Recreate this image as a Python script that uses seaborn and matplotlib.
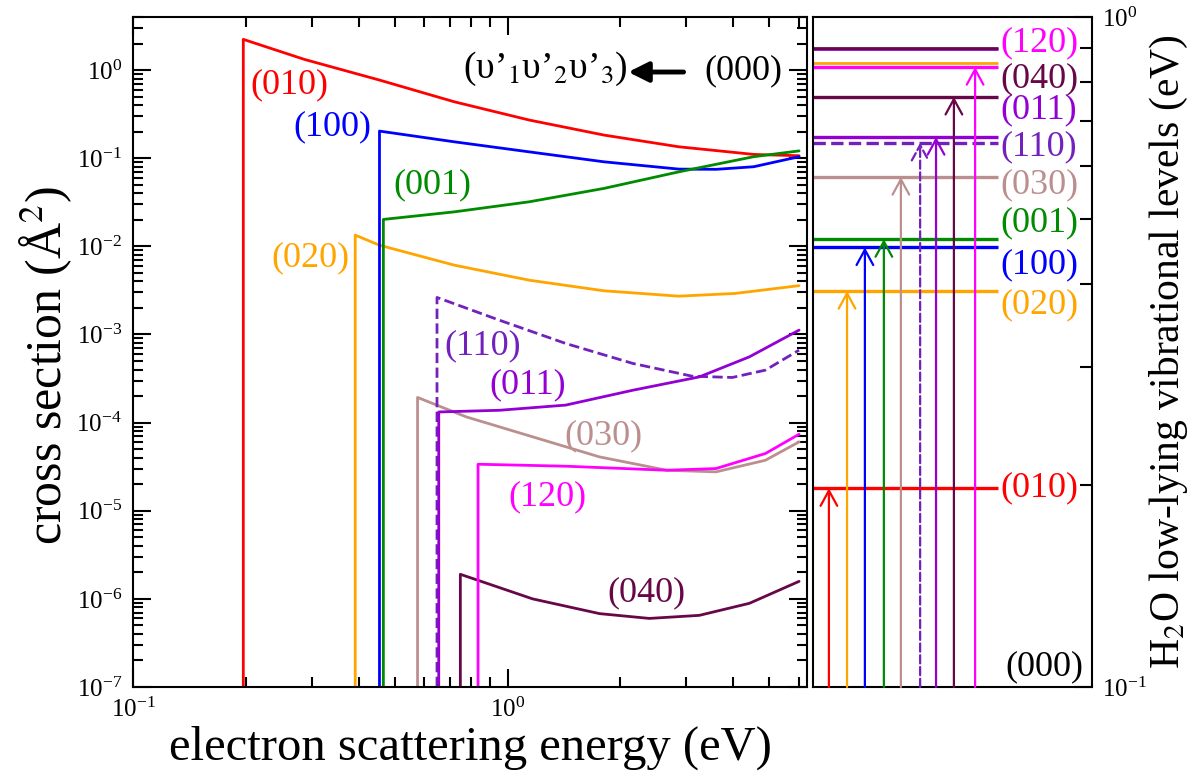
import numpy as np
import pandas as pd
import seaborn as sns
import matplotlib.pyplot as plt
from matplotlib.ticker import NullFormatter


# ======================================
# DATA
# ======================================

STATES = ["(010)", "(020)", "(100)", "(001)", "(030)",
          "(110)", "(011)", "(040)", "(120)"]

# cross section curves: first point is the threshold
e_010 = [0.197, 0.287, 0.455, 0.720, 1.142, 1.808, 2.865, 4.54, 6.0]
s_010 = [2.23, 1.32, 0.770, 0.437, 0.271, 0.183, 0.1347, 0.1104, 0.1066]

e_020 = [0.392, 0.455, 0.720, 1.142, 1.808, 2.865, 4.05, 5.84, 6.0]
s_020 = [0.0134, 0.0103, 0.00612, 0.00413, 0.00313, 0.00272, 0.00292,
         0.00353, 0.00358]

e_100 = [0.455, 0.720, 1.142, 1.808, 2.865, 3.61, 4.54, 6.0]
s_100 = [0.203, 0.1535, 0.118, 0.091, 0.0752, 0.0748, 0.080, 0.104]

e_001 = [0.466, 0.720, 1.142, 1.808, 2.865, 4.54, 6.0]
s_001 = [0.0202, 0.0246, 0.032, 0.0454, 0.070, 0.104, 0.121]

e_030 = [0.575, 0.776, 1.166, 1.76, 2.66, 3.6, 4.88, 6.0]
s_030 = [1.93e-4, 1.16e-4, 6.9e-5, 4.08e-5, 2.88e-5, 2.76e-5, 3.74e-5, 6.04e-5]

e_110 = [0.648, 0.952, 1.43, 2.16, 3.11, 3.98, 4.88, 6.0]
s_110 = [2.63e-3, 1.45e-3, 7.9e-4, 4.69e-4, 3.36e-4, 3.25e-4, 3.94e-4, 6.64e-4]

e_011 = [0.655, 0.952, 1.43, 2.16, 3.25, 4.42, 6.0]
s_011 = [1.32e-4, 1.38e-4, 1.58e-4, 2.33e-4, 3.3e-4, 5.57e-4, 1.12e-3]

e_040 = [0.748, 1.166, 1.76, 2.39, 3.25, 4.42, 6.0]
s_040 = [1.9e-6, 1.0e-6, 6.8e-7, 6.0e-7, 6.5e-7, 8.9e-7, 1.58e-6]

e_120 = [0.834, 1.43, 2.66, 3.6, 4.88, 6.0]
s_120 = [3.37e-5, 3.2e-5, 2.88e-5, 3.01e-5, 4.46e-5, 7.38e-5]

CURVES_E = [e_010, e_020, e_100, e_001, e_030, e_110, e_011, e_040, e_120]
CURVES_S = [s_010, s_020, s_100, s_001, s_030, s_110, s_011, s_040, s_120]

# vibrational level energies (eV), right panel
level_energies = [0.198, 0.390, 0.453, 0.466, 0.577, 0.649, 0.662, 0.760, 0.842]

# higher levels drawn without label
extra_levels = [0.853, 0.895, 0.898]


# ======================================
# STYLE
# ======================================

COLORS = {
    "(010)": "#ff0000",
    "(020)": "#ffa500",
    "(100)": "#0000ff",
    "(001)": "#008b00",
    "(030)": "#bc8f8f",
    "(110)": "#7221bc",
    "(011)": "#9400d3",
    "(040)": "#670748",
    "(120)": "#ff00ff",
}
EXTRA_COLORS = ["#ffa500", "#9400d3", "#670748"]

DASHED = ["(110)"]

# label positions in the left panel (data coords)
LEFT_LABEL_POS = {
    "(010)": (0.261, 0.676),
    "(100)": (0.341, 0.225),
    "(001)": (0.631, 0.0495),
    "(020)": (0.298, 0.00735),
    "(110)": (0.857, 7.37e-4),
    "(011)": (1.13, 2.66e-4),
    "(030)": (1.80, 7.0e-5),
    "(120)": (1.28, 1.42e-5),
    "(040)": (2.35, 1.16e-6),
}

# right panel: arrow x position (axes fraction) and label heights
ARROW_X = [0.057, 0.122, 0.186, 0.254, 0.315, 0.384, 0.441, 0.505, 0.581]
RIGHT_LABEL_Y = {
    "(120)": 0.914,
    "(040)": 0.808,
    "(011)": 0.727,
    "(110)": 0.640,
    "(030)": 0.561,
    "(001)": 0.493,
    "(100)": 0.426,
    "(020)": 0.372,
    "(010)": 0.198,
}
LEVEL_END = 0.663

sns.set_style("ticks")
plt.rcParams["font.family"] = ["Liberation Serif", "DejaVu Serif"]
plt.rcParams["mathtext.fontset"] = "stix"
plt.rcParams["text.color"] = "black"
plt.rcParams["axes.labelcolor"] = "black"
plt.rcParams["xtick.color"] = "black"
plt.rcParams["ytick.color"] = "black"
plt.rcParams["axes.edgecolor"] = "black"

LABEL_FS = 26
TICK_FS = 18
LW = 2.0

fig = plt.figure(figsize=(12, 7.84), dpi=100)

W, H = 1200, 784
ax = fig.add_axes([133 / W, 97 / H, 674 / W, 670 / H])
ax2 = fig.add_axes([813 / W, 97 / H, 279 / W, 670 / H])


# ======================================
# LEFT PANEL: CROSS SECTIONS
# ======================================

YMIN = 1e-7

for state, e_vals, s_vals in zip(STATES, CURVES_E, CURVES_S):
    curve = pd.DataFrame({
        "energy": [e_vals[0]] + e_vals,
        "sigma": [YMIN] + s_vals,
    })
    sns.lineplot(
        data=curve,
        x="energy",
        y="sigma",
        color=COLORS[state],
        linewidth=LW,
        linestyle="--" if state in DASHED else "-",
        dashes=(4, 2.5) if state in DASHED else (None, None),
        sort=False,
        estimator=None,
        ax=ax,
    )

for state, (px, py) in LEFT_LABEL_POS.items():
    ax.text(px, py, state, color=COLORS[state], fontsize=LABEL_FS,
            ha="center", va="center")

ax.text(2.09, 1.02, "(υ’$_1$υ’$_2$υ’$_3$)", fontsize=LABEL_FS + 1,
        ha="right", va="center", color="black")
ax.annotate("", xy=(2.1, 0.95), xytext=(2.95, 0.95),
            arrowprops=dict(arrowstyle="-|>,head_length=0.6,head_width=0.3",
                            color="black", lw=3.5, shrinkA=0, shrinkB=0,
                            mutation_scale=20))
ax.text(3.35, 0.98, "(000)", fontsize=LABEL_FS, ha="left", va="center",
        color="black")

ax.set_xscale("log")
ax.set_yscale("log")
ax.set_xlim(0.1, 6.3)
ax.set_ylim(YMIN, 4.0)

ax.tick_params(which="both", direction="in", top=True, right=True,
               labelsize=TICK_FS, width=1.5)
ax.tick_params(which="major", length=13, pad=8)
ax.tick_params(which="minor", length=7)

ax.set_xlabel("electron scattering energy (eV)", fontsize=35)
ax.set_ylabel("cross section (Å$^2$)", fontsize=36)
ax.xaxis.set_label_coords(0.5, -0.058)
ax.yaxis.set_label_coords(-0.088, 0.48)

for sp in ax.spines.values():
    sp.set_linewidth(1.5)


# ======================================
# RIGHT PANEL: VIBRATIONAL LEVELS
# ======================================

for lvl, col in zip(extra_levels, EXTRA_COLORS):
    ax2.hlines(lvl, 0, LEVEL_END, color=col, linewidth=LW)

for state, lvl, xa in zip(STATES, level_energies, ARROW_X):
    col = COLORS[state]
    ls = "--" if state in DASHED else "-"
    ax2.hlines(lvl, 0, LEVEL_END, color=col, linewidth=LW + 0.4,
               linestyle=ls)
    ax2.annotate("", xy=(xa, lvl), xytext=(xa, 0.1),
                 arrowprops=dict(arrowstyle="->,head_length=0.55,head_width=0.3",
                                 color=col, lw=1.6, linestyle=ls,
                                 shrinkA=0, shrinkB=0, mutation_scale=20))
    ax2.text(0.67, RIGHT_LABEL_Y[state], state, color=col,
             fontsize=LABEL_FS, ha="left", va="center")

ax2.text(0.97, 0.107, "(000)", color="black", fontsize=LABEL_FS,
         ha="right", va="center")

ax2.set_yscale("log")
ax2.set_xlim(0, 1)
ax2.set_ylim(0.1, 1.0)
ax2.set_xticks([])
ax2.yaxis.tick_right()
ax2.yaxis.set_label_position("right")
ax2.yaxis.set_minor_formatter(NullFormatter())
ax2.tick_params(axis="y", which="both", direction="in", left=False,
                right=True, labelsize=TICK_FS, width=1.5, pad=7)
ax2.tick_params(axis="y", which="major", length=13)
ax2.tick_params(axis="y", which="minor", length=9)
ax2.set_ylabel("H$_2$O low-lying vibrational levels (eV)", fontsize=30)
ax2.yaxis.set_label_coords(1.2, 0.5)

for sp in ax2.spines.values():
    sp.set_linewidth(1.5)

fig.savefig("out.png", dpi=100)
